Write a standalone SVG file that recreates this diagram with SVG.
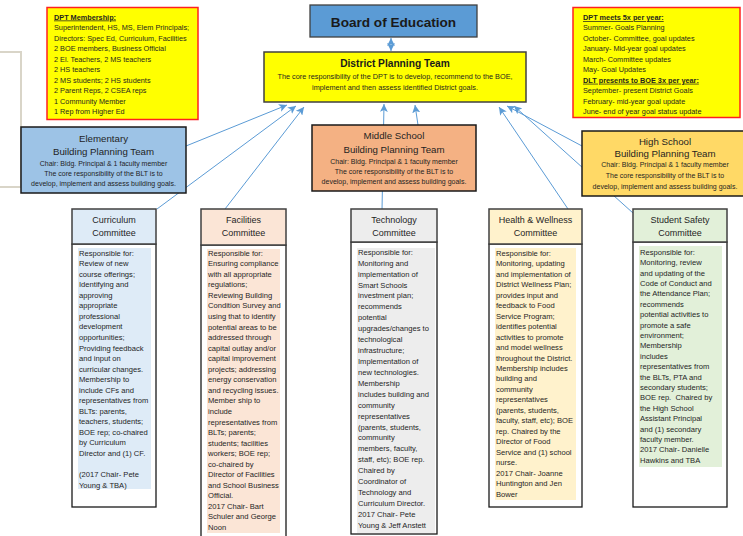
<svg xmlns="http://www.w3.org/2000/svg" width="743" height="536" viewBox="0 0 743 536">
<defs>
<marker id="ah" markerUnits="userSpaceOnUse" markerWidth="8" markerHeight="8" viewBox="0 0 10 10" refX="10" refY="5" orient="auto-start-reverse">
<path d="M0,0 L10,5 L0,10 L2.5,5 Z" fill="#5b9bd5"/>
</marker>
<style>
text{font-family:"Liberation Sans",Arial,sans-serif;fill:#1f1f1f;}
.con line{stroke:#5b9bd5;stroke-width:1;marker-end:url(#ah);}
.note{fill:#ffff00;stroke:#ff2020;stroke-width:1.5;}
.nt{font-size:7.3px;}
.blt{stroke:#1a1a1a;stroke-width:1.5;}
.bt1{font-size:9.7px;text-anchor:middle;}
.bt2{font-size:7px;text-anchor:middle;}
.hdr{stroke:#404040;stroke-width:1.5;}
.body{fill:#ffffff;stroke:#1a1a1a;stroke-width:1.3;}
.ht{font-size:9px;text-anchor:middle;}
.bd{font-size:7.6px;}
</style>
</defs>

<polyline points="0,52 21,52 21,187 0,187" fill="none" stroke="#d9d5c8" stroke-width="2"/>

<g class="con">
<line x1="391" y1="38" x2="391" y2="51" style="marker-start:url(#ah)"/>
<line x1="186" y1="146" x2="287" y2="105"/>
<line x1="157" y1="209" x2="296" y2="106"/>
<line x1="225" y1="209" x2="304" y2="107"/>
<line x1="382" y1="210" x2="384" y2="104"/>
<line x1="418" y1="125" x2="415" y2="105"/>
<line x1="568" y1="209" x2="499" y2="107"/>
<line x1="582" y1="146" x2="507" y2="106"/>
<line x1="633" y1="213" x2="514" y2="106"/>
</g>

<g id="membership">
<rect class="note" x="47" y="7.5" width="151" height="112"/>
<text class="nt" x="54" y="19.5"><tspan font-weight="bold" text-decoration="underline">DPT Membership:</tspan><tspan x="54" dy="10.5">Superintendent, HS, MS, Elem Principals;</tspan><tspan x="54" dy="10.5">Directors: Spec Ed, Curriculum, Facilities</tspan><tspan x="54" dy="10.5">2 BOE members, Business Official</tspan><tspan x="54" dy="10.5">2 El. Teachers, 2 MS teachers</tspan><tspan x="54" dy="10.5">2 HS teachers</tspan><tspan x="54" dy="10.5">2 MS students; 2 HS students</tspan><tspan x="54" dy="10.5">2 Parent Reps, 2 CSEA reps</tspan><tspan x="54" dy="10.5">1 Community Member</tspan><tspan x="54" dy="10.5">1 Rep from Higher Ed</tspan></text>
</g>

<g id="meetings">
<rect class="note" x="573" y="7.5" width="167" height="110"/>
<text class="nt" x="583" y="20"><tspan font-weight="bold" text-decoration="underline">DPT meets 5x per year:</tspan><tspan x="583" dy="10.45">Summer- Goals Planning</tspan><tspan x="583" dy="10.45">October- Committee, goal updates</tspan><tspan x="583" dy="10.45">January- Mid-year goal updates</tspan><tspan x="583" dy="10.45">March- Committee updates</tspan><tspan x="583" dy="10.45">May- Goal Updates</tspan><tspan x="583" dy="10.45" font-weight="bold" text-decoration="underline">DLT presents to BOE 3x per year:</tspan><tspan x="583" dy="10.45">September- present District Goals</tspan><tspan x="583" dy="10.45">February- mid-year goal update</tspan><tspan x="583" dy="10.45">June- end of year goal status update</tspan></text>
</g>

<g id="board">
<rect x="310" y="5" width="167" height="32" fill="#5b9bd5" stroke="#404040" stroke-width="1.3"/>
<text x="393.5" y="26.5" font-size="13.6" font-weight="bold" text-anchor="middle" style="fill:#1a1a1a">Board of Education</text>
</g>

<g id="dpt">
<rect x="264" y="52" width="262" height="50" fill="#ffff00" stroke="#404040" stroke-width="1.5"/>
<text x="395" y="67" font-size="10.2" font-weight="bold" text-anchor="middle" style="fill:#1a1a1a">District Planning Team</text>
<text x="395" y="78.5" font-size="7.3" text-anchor="middle">The core responsibility of the DPT is to develop, recommend to the BOE,</text>
<text x="395" y="90" font-size="7.3" text-anchor="middle">implement and then assess identified District goals.</text>
</g>

<g id="elementary">
<rect class="blt" x="21" y="127" width="165" height="66" fill="#9dc3e6"/>
<text class="bt1" x="103.5" y="141.5">Elementary</text>
<text class="bt1" x="103.5" y="154.5">Building Planning Team</text>
<text class="bt2" x="103.5" y="165.5">Chair: Bldg. Principal &amp; 1 faculty member</text>
<text class="bt2" x="103.5" y="175.5">The core responsibility of the BLT is to</text>
<text class="bt2" x="103.5" y="185.5">develop, implement and assess building goals.</text>
</g>

<g id="middle">
<rect class="blt" x="312" y="125" width="164" height="66" fill="#f4b183"/>
<text class="bt1" x="394" y="138.5">Middle School</text>
<text class="bt1" x="394" y="152.5">Building Planning Team</text>
<text class="bt2" x="394" y="163.5">Chair: Bldg. Principal &amp; 1 faculty member</text>
<text class="bt2" x="394" y="173.5">The core responsibility of the BLT is to</text>
<text class="bt2" x="394" y="183.5">develop, implement and assess building goals.</text>
</g>

<g id="high">
<rect class="blt" x="582" y="131" width="166" height="65" fill="#ffd966"/>
<text class="bt1" x="665" y="144.5">High School</text>
<text class="bt1" x="665" y="156.5">Building Planning Team</text>
<text class="bt2" x="665" y="166.5">Chair: Bldg. Principal &amp; 1 faculty member</text>
<text class="bt2" x="665" y="177.5">The core responsibility of the BLT is to</text>
<text class="bt2" x="665" y="188.5">develop, implement and assess building goals.</text>
</g>

<g id="curriculum">
<rect class="body" x="72" y="244" width="84" height="263"/>
<rect x="78" y="248" width="73" height="241" fill="#deebf7"/>
<rect class="hdr" x="72" y="209" width="84" height="35" fill="#deebf7"/>
<text class="ht" x="114" y="223">Curriculum</text>
<text class="ht" x="114" y="236">Committee</text>
<text class="bd" x="79" y="255.7"><tspan>Responsible for:</tspan><tspan x="79" dy="10.54">Review of new</tspan><tspan x="79" dy="10.54">course offerings;</tspan><tspan x="79" dy="10.54">Identifying and</tspan><tspan x="79" dy="10.54">approving</tspan><tspan x="79" dy="10.54">appropriate</tspan><tspan x="79" dy="10.54">professional</tspan><tspan x="79" dy="10.54">development</tspan><tspan x="79" dy="10.54">opportunities;</tspan><tspan x="79" dy="10.54">Providing feedback</tspan><tspan x="79" dy="10.54">and input on</tspan><tspan x="79" dy="10.54">curricular changes.</tspan><tspan x="79" dy="10.54">Membership to</tspan><tspan x="79" dy="10.54">include CFs and</tspan><tspan x="79" dy="10.54">representatives from</tspan><tspan x="79" dy="10.54">BLTs: parents,</tspan><tspan x="79" dy="10.54">teachers, students;</tspan><tspan x="79" dy="10.54">BOE rep; co-chaired</tspan><tspan x="79" dy="10.54">by Curriculum</tspan><tspan x="79" dy="10.54">Director and (1) CF.</tspan><tspan x="79" dy="21.08">(2017 Chair- Pete</tspan><tspan x="79" dy="10.54">Young &amp; TBA)</tspan></text>
</g>

<g id="facilities">
<rect class="body" x="201" y="245" width="85" height="300"/>
<rect x="207" y="249" width="73" height="284" fill="#fbe5d6"/>
<rect class="hdr" x="201" y="209" width="85" height="36" fill="#fbe5d6"/>
<text class="ht" x="243.5" y="223">Facilities</text>
<text class="ht" x="243.5" y="236">Committee</text>
<text class="bd" x="208" y="255.7"><tspan>Responsible for:</tspan><tspan x="208" dy="10.55">Ensuring compliance</tspan><tspan x="208" dy="10.55">with all appropriate</tspan><tspan x="208" dy="10.55">regulations;</tspan><tspan x="208" dy="10.55">Reviewing Building</tspan><tspan x="208" dy="10.55">Condition Survey and</tspan><tspan x="208" dy="10.55">using that to identify</tspan><tspan x="208" dy="10.55">potential areas to be</tspan><tspan x="208" dy="10.55">addressed through</tspan><tspan x="208" dy="10.55">capital outlay and/or</tspan><tspan x="208" dy="10.55">capital improvement</tspan><tspan x="208" dy="10.55">projects; addressing</tspan><tspan x="208" dy="10.55">energy conservation</tspan><tspan x="208" dy="10.55">and recycling issues.</tspan><tspan x="208" dy="10.55">Member ship to</tspan><tspan x="208" dy="10.55">include</tspan><tspan x="208" dy="10.55">representatives from</tspan><tspan x="208" dy="10.55">BLTs; parents;</tspan><tspan x="208" dy="10.55">students; facilities</tspan><tspan x="208" dy="10.55">workers; BOE rep;</tspan><tspan x="208" dy="10.55">co-chaired by</tspan><tspan x="208" dy="10.55">Director of Facilities</tspan><tspan x="208" dy="10.55">and School Business</tspan><tspan x="208" dy="10.55">Official.</tspan><tspan x="208" dy="10.55">2017 Chair- Bart</tspan><tspan x="208" dy="10.55">Schuler and George</tspan><tspan x="208" dy="10.55">Noon</tspan></text>
</g>

<g id="technology">
<rect class="body" x="351" y="242" width="86" height="292"/>
<rect x="357" y="248" width="78" height="285" fill="#ededed"/>
<rect class="hdr" x="351" y="209" width="86" height="33" fill="#ededed"/>
<text class="ht" x="394" y="223">Technology</text>
<text class="ht" x="394" y="236">Committee</text>
<text class="bd" x="358" y="254.8" font-size="7.9"><tspan>Responsible for:</tspan><tspan x="358" dy="10.92">Monitoring and</tspan><tspan x="358" dy="10.92">implementation of</tspan><tspan x="358" dy="10.92">Smart Schools</tspan><tspan x="358" dy="10.92">investment plan;</tspan><tspan x="358" dy="10.92">recommends</tspan><tspan x="358" dy="10.92">potential</tspan><tspan x="358" dy="10.92">upgrades/changes to</tspan><tspan x="358" dy="10.92">technological</tspan><tspan x="358" dy="10.92">infrastructure;</tspan><tspan x="358" dy="10.92">Implementation of</tspan><tspan x="358" dy="10.92">new technologies.</tspan><tspan x="358" dy="10.92">Membership</tspan><tspan x="358" dy="10.92">includes building and</tspan><tspan x="358" dy="10.92">community</tspan><tspan x="358" dy="10.92">representatives</tspan><tspan x="358" dy="10.92">(parents, students,</tspan><tspan x="358" dy="10.92">community</tspan><tspan x="358" dy="10.92">members, faculty,</tspan><tspan x="358" dy="10.92">staff, etc); BOE rep.</tspan><tspan x="358" dy="10.92">Chaired by</tspan><tspan x="358" dy="10.92">Coordinator of</tspan><tspan x="358" dy="10.92">Technology and</tspan><tspan x="358" dy="10.92">Curriculum Director.</tspan><tspan x="358" dy="10.92">2017 Chair- Pete</tspan><tspan x="358" dy="10.92">Young &amp; Jeff Anstett</tspan></text>
</g>

<g id="health">
<rect class="body" x="489" y="244" width="93" height="263"/>
<rect x="495" y="248" width="81" height="252" fill="#fff2cc"/>
<rect class="hdr" x="489" y="209" width="93" height="35" fill="#fff2cc"/>
<text class="ht" x="535.5" y="223">Health &amp; Wellness</text>
<text class="ht" x="535.5" y="236">Committee</text>
<text class="bd" x="496" y="255.7"><tspan>Responsible for:</tspan><tspan x="496" dy="10.48">Monitoring, updating</tspan><tspan x="496" dy="10.48">and implementation of</tspan><tspan x="496" dy="10.48">District Wellness Plan;</tspan><tspan x="496" dy="10.48">provides input and</tspan><tspan x="496" dy="10.48">feedback to Food</tspan><tspan x="496" dy="10.48">Service Program;</tspan><tspan x="496" dy="10.48">identifies potential</tspan><tspan x="496" dy="10.48">activities to promote</tspan><tspan x="496" dy="10.48">and model wellness</tspan><tspan x="496" dy="10.48">throughout the District.</tspan><tspan x="496" dy="10.48">Membership includes</tspan><tspan x="496" dy="10.48">building and</tspan><tspan x="496" dy="10.48">community</tspan><tspan x="496" dy="10.48">representatives</tspan><tspan x="496" dy="10.48">(parents, students,</tspan><tspan x="496" dy="10.48">faculty, staff, etc); BOE</tspan><tspan x="496" dy="10.48">rep. Chaired by the</tspan><tspan x="496" dy="10.48">Director of Food</tspan><tspan x="496" dy="10.48">Service and (1) school</tspan><tspan x="496" dy="10.48">nurse.</tspan><tspan x="496" dy="10.48">2017 Chair- Joanne</tspan><tspan x="496" dy="10.48">Huntington and Jen</tspan><tspan x="496" dy="10.48">Bower</tspan></text>
</g>

<g id="safety">
<rect class="body" x="633" y="242" width="94" height="265"/>
<rect x="639" y="246" width="83" height="221" fill="#e2f0d9"/>
<rect class="hdr" x="633" y="209" width="94" height="33" fill="#e2f0d9"/>
<text class="ht" x="680" y="223">Student Safety</text>
<text class="ht" x="680" y="236">Committee</text>
<text class="bd" x="640" y="254.7"><tspan>Responsible for:</tspan><tspan x="640" dy="10.4">Monitoring, review</tspan><tspan x="640" dy="10.4">and updating of the</tspan><tspan x="640" dy="10.4">Code of Conduct and</tspan><tspan x="640" dy="10.4">the Attendance Plan;</tspan><tspan x="640" dy="10.4">recommends</tspan><tspan x="640" dy="10.4">potential activities to</tspan><tspan x="640" dy="10.4">promote a safe</tspan><tspan x="640" dy="10.4">environment;</tspan><tspan x="640" dy="10.4">Membership</tspan><tspan x="640" dy="10.4">includes</tspan><tspan x="640" dy="10.4">representatives from</tspan><tspan x="640" dy="10.4">the BLTs, PTA and</tspan><tspan x="640" dy="10.4">secondary students;</tspan><tspan x="640" dy="10.4" xml:space="preserve">BOE rep.  Chaired by</tspan><tspan x="640" dy="10.4">the High School</tspan><tspan x="640" dy="10.4">Assistant Principal</tspan><tspan x="640" dy="10.4">and (1) secondary</tspan><tspan x="640" dy="10.4">faculty member.</tspan><tspan x="640" dy="10.4">2017 Chair- Danielle</tspan><tspan x="640" dy="10.4">Hawkins and TBA</tspan></text>
</g>
</svg>
